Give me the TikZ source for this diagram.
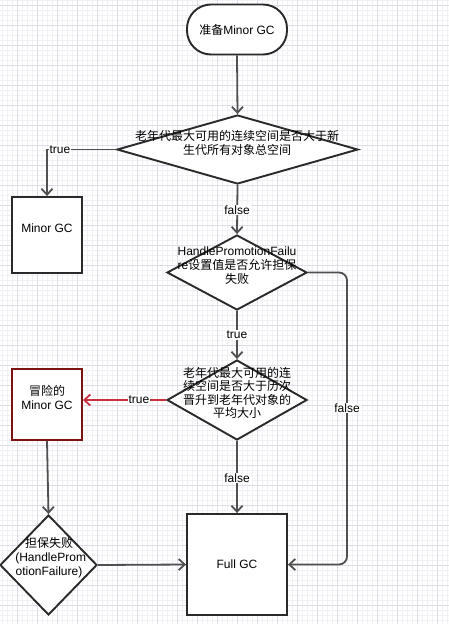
\documentclass[tikz,border=0pt]{standalone}
\usepackage{fontspec}
\setmainfont{Liberation Sans}
\newfontfamily\cjk{Noto Sans CJK SC}
\usetikzlibrary{shapes.geometric,arrows.meta}
\definecolor{shapeline}{HTML}{2A2A2A}
\definecolor{connline}{HTML}{505050}
\definecolor{redline}{HTML}{C8303F}
\definecolor{darkred}{HTML}{7A1414}
\definecolor{gridmajor}{HTML}{DDDDE8}
\definecolor{gridminor}{HTML}{F2F2F6}
\tikzset{
  txt/.style={font=\fontsize{12}{14}\selectfont, align=center, inner sep=0pt},
  boxshape/.style={draw=shapeline, line width=1.9pt, fill=white, inner sep=0pt},
  dia/.style={diamond, draw=shapeline, line width=1.9pt, fill=white, inner sep=0pt, aspect=1},
  tip/.style={-{Straight Barb[length=6pt,width=11pt,line width=1.8pt]}},
  conn/.style={draw=connline, line width=1.8pt, tip},
  lbl/.style={font=\fontsize{12}{14}\selectfont, fill=white, inner sep=1pt},
}
\begin{document}
\begin{tikzpicture}[x=1pt,y=-1pt]
\useasboundingbox (0,0) rectangle (449,624);
\fill[white] (0,0) rectangle (449,624);
% grid
\foreach \x in {2.3,7.3,...,449} \draw[gridminor,line width=0.5pt] (\x,0) -- (\x,624);
\foreach \y in {0,5,...,624} \draw[gridminor,line width=0.5pt] (0,\y) -- (449,\y);
\foreach \x in {17.3,37.3,...,449} \draw[gridmajor,line width=0.6pt] (\x,0) -- (\x,624);
\foreach \y in {5,25,...,624} \draw[gridmajor,line width=0.6pt] (0,\y) -- (449,\y);

% shapes
\node[boxshape, rounded corners=24pt, minimum width=100pt, minimum height=50pt] (start) at (237,29.5) {};
\node[txt] (starttxt) at (237,30) {{\cjk 准备}Minor GC};

\node[dia, minimum width=241pt, minimum height=69pt] (d1) at (237.5,149.5) {};
\node[txt] (d1txt) at (237,143) {{\cjk 老年代最大可用的连续空间是否大于新}\\{\cjk 生代所有对象总空间}};

\node[boxshape, minimum width=70pt, minimum height=76pt] (mgc) at (47,235) {};
\node[txt] (mgctxt) at (47,228) {Minor GC};

\node[dia, minimum width=140pt, minimum height=75pt] (d2) at (237,272.5) {};
\node[txt] (d2txt) at (237,266) {HandlePromotionFailu\\re{\cjk 设置值是否允许担保}\\{\cjk 失败}};

\node[dia, minimum width=140pt, minimum height=80pt] (d3) at (237,400) {};
\node[txt, font=\fontsize{12}{13.5}\selectfont] (d3txt) at (237,393) {{\cjk 老年代最大可用的连}\\{\cjk 续空间是否大于历次}\\{\cjk 晋升到老年代对象的}\\{\cjk 平均大小}};

\node[boxshape, draw=darkred, minimum width=70pt, minimum height=71pt] (risk) at (47,404.5) {};
\node[txt] (risktxt) at (47,397) {{\cjk 冒险的}\\Minor GC};

\node[dia, minimum width=97pt, minimum height=100pt] (d4) at (48.5,565) {};
\node[txt] (d4txt) at (49,558) {{\cjk 担保失败}\\\ (HandleProm\\otionFailure)};

\node[boxshape, minimum width=100pt, minimum height=101pt] (full) at (237,564.5) {};
\node[txt] (fulltxt) at (237,564) {Full GC};

% connectors
\draw[conn] (start.south) -- (d1.north);
\draw[conn] (d1.west) -| (mgc.north);
\node[lbl] (l1) at (60,150) {true};
\draw[conn] (d1.south) -- (d2.north);
\node[lbl] (l2) at (237,210) {false};
\draw[conn] (d2.south) -- (d3.north);
\node[lbl] (l3) at (237,335) {true};
\draw[conn, draw=redline] (d3.west) -- (d3.west -| risk.east);
\node[lbl] (l4) at (139,400) {true};
\draw[conn] (d3.south) -- (full.north);
\node[lbl] (l5) at (237,478) {false};
\draw[conn] (risk.south) -- (d4.north);
\draw[conn] (d4.east) -- (full.west);
\coordinate (c2) at (347,272.5);
\draw[conn, rounded corners=8pt] (d2.east) -- (c2) |- (full.east);
\node[lbl] (l6) at (347,408) {false};
\end{tikzpicture}
\end{document}
